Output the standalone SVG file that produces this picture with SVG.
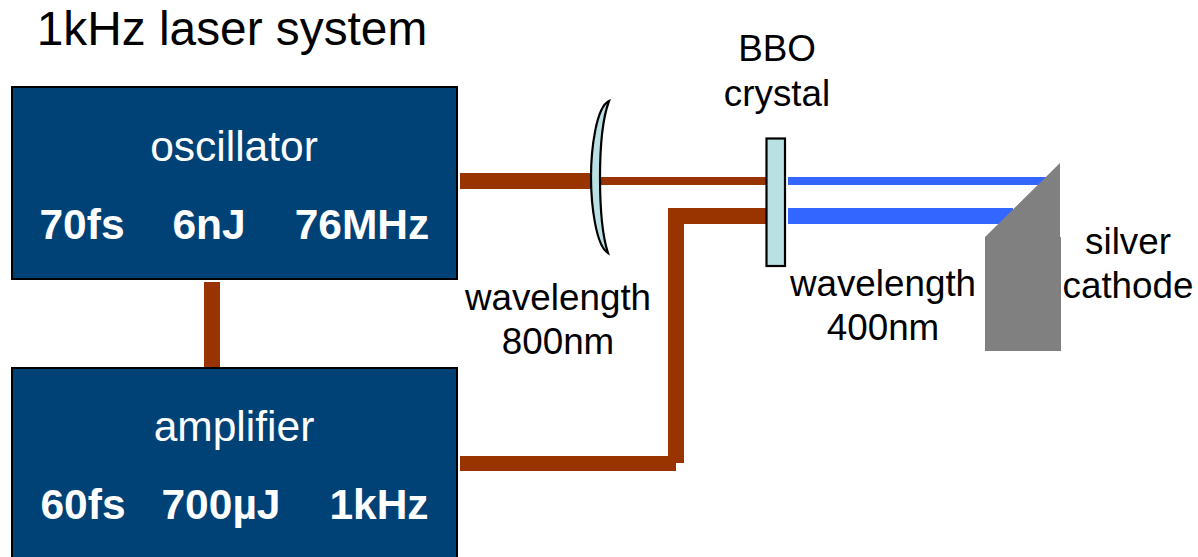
<svg xmlns="http://www.w3.org/2000/svg" width="1198" height="557" viewBox="0 0 1198 557">
<style>
text{font-family:"Liberation Sans",Arial,sans-serif;text-anchor:middle;fill:#000}
.lbl{font-size:36.800px}
.box{fill:#004276;stroke:#000;stroke-width:2}
.w{fill:#fff;font-size:42.500px}
.b{fill:#fff;font-size:42.500px;font-weight:bold}
.red{fill:#993300}
.blue{fill:#3366ff}
.opt{fill:#b9e0e3;stroke:#000;stroke-width:2.2}
</style>
<rect width="1198" height="557" fill="#fff"/>
<text x="232" y="45" style="font-size:47.800px">1kHz laser system</text>
<g id="connectors">
<rect class="red" x="204" y="282" width="16" height="85"/>
<rect class="red" x="460" y="173" width="132" height="16"/>
<rect class="red" x="598" y="177" width="170" height="8"/>
<rect class="red" x="668" y="208" width="100" height="16"/>
<rect class="red" x="668" y="208" width="16" height="255"/>
<rect class="red" x="460" y="456" width="216" height="15"/>
<rect class="blue" x="788" y="177" width="262" height="8"/>
<rect class="blue" x="788" y="208" width="225" height="16"/>
</g>
<g id="oscillator">
<rect class="box" x="12" y="87" width="445" height="192"/>
<text class="w" x="234" y="161">oscillator</text>
<text class="b" x="82" y="239">70fs</text>
<text class="b" x="209" y="239">6nJ</text>
<text class="b" x="362" y="239">76MHz</text>
</g>
<g id="amplifier">
<rect class="box" x="12" y="368" width="445" height="200"/>
<text class="w" x="234" y="441">amplifier</text>
<text class="b" x="83" y="519">60fs</text>
<text class="b" x="221" y="519">700µJ</text>
<text class="b" x="379" y="519">1kHz</text>
</g>
<g id="lens">
<path class="opt" d="M609 101C596 107 591 150 591 177C591 205 596 246 608 253C602 235 600 205 600 177C600 150 602 120 609 101Z"/>
</g>
<g id="bbo-crystal">
<rect class="opt" x="766.500" y="138.500" width="18.500" height="127.500"/>
<text class="lbl" x="777" y="61">BBO</text>
<text class="lbl" x="777" y="106">crystal</text>
</g>
<g id="silver-cathode">
<path fill="#808080" d="M985 237L1060 163V237H1061V351H985Z"/>
<text class="lbl" x="1128" y="254">silver</text>
<text class="lbl" x="1128" y="298">cathode</text>
</g>
<g id="labels">
<text class="lbl" x="558" y="310">wavelength</text>
<text class="lbl" x="558" y="354">800nm</text>
<text class="lbl" x="883" y="296">wavelength</text>
<text class="lbl" x="883" y="340">400nm</text>
</g>
</svg>
